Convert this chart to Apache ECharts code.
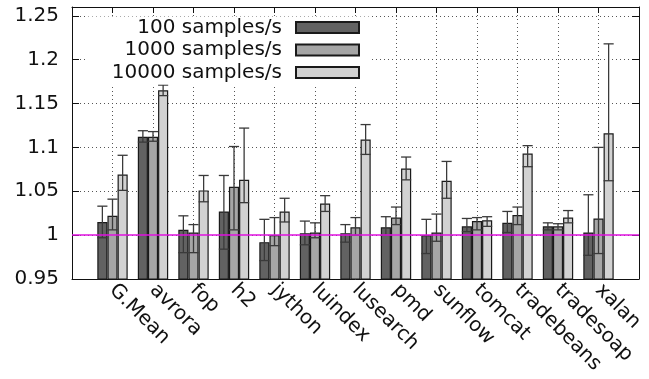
<!DOCTYPE html>
<html>
<head>
<meta charset="utf-8">
<script src="https://cdn.jsdelivr.net/npm/echarts@6/dist/echarts.min.js"></script>
<style>
html,body{margin:0;padding:0;background:#fff;}
#main{width:649px;height:379px;}
</style>
</head>
<body>
<div id="main"></div>
<script>
// benchmarks (x categories)
var names = ['G.Mean','avrora','fop','h2','jython','luindex','lusearch','pmd','sunflow','tomcat','tradebeans','tradesoap','xalan'];
var seriesNames = ['100 samples/s','1000 samples/s','10000 samples/s'];

// normalized values
var v100   = [1.015, 1.112, 1.006, 1.027, 0.992, 1.002, 1.002, 1.009, 1.000, 1.010, 1.014, 1.010, 1.003];
var v1000  = [1.022, 1.112, 1.003, 1.055, 1.000, 1.003, 1.009, 1.020, 1.003, 1.016, 1.023, 1.010, 1.019];
var v10000 = [1.069, 1.165, 1.051, 1.063, 1.027, 1.036, 1.109, 1.076, 1.062, 1.017, 1.093, 1.020, 1.116];

// error bar low / high
var lo100    = [0.997, 1.106, 0.980, 0.984, 0.971, 0.989, 0.992, 1.000, 0.979, 1.004, 1.003, 1.006, 0.977];
var hi100    = [1.033, 1.119, 1.022, 1.068, 1.018, 1.016, 1.012, 1.021, 1.018, 1.019, 1.027, 1.014, 1.046];
var lo1000   = [1.006, 1.107, 0.980, 1.006, 0.988, 0.997, 1.000, 1.012, 0.993, 1.006, 1.012, 1.006, 0.979];
var hi1000   = [1.041, 1.118, 1.012, 1.101, 1.020, 1.014, 1.020, 1.032, 1.024, 1.020, 1.032, 1.013, 1.100];
var lo10000  = [1.051, 1.159, 1.038, 1.037, 1.015, 1.027, 1.092, 1.063, 1.042, 1.010, 1.078, 1.014, 1.062];
var hi10000  = [1.091, 1.171, 1.068, 1.122, 1.042, 1.045, 1.126, 1.089, 1.084, 1.021, 1.102, 1.028, 1.218];

var yTicks = {min: 0.95, max: 1.26, interval: 0.05};
var baseline = 1;

var font = 'DejaVu Sans';
var colors = ['#626262', '#a6a6a6', '#d2d2d2'];

// pad with an empty category at each end (gnuplot xrange -1..13)
var cats = [''].concat(names, ['']);
function pad(arr){ return [null].concat(arr, [null]); }

var vals = [v100, v1000, v10000];
var lows = [lo100, lo1000, lo10000];
var highs = [hi100, hi1000, hi10000];

var errData = [];
for (var s = 0; s < 3; s++){
	for (var i = 0; i < names.length; i++){
		errData.push([i + 1, lows[s][i], highs[s][i], s]);
	}
}

var barSeries = [];
for (var k = 0; k < 3; k++){
	barSeries.push({
		name: seriesNames[k],
		type: 'bar',
		xAxisIndex: 0,
		yAxisIndex: 0,
		data: pad(vals[k]),
		barWidth: '25%',
		barGap: '0%',
		itemStyle: {color: colors[k], borderColor: '#1a1a1a', borderWidth: 1.2},
		emphasis: {disabled: true},
		z: 2
	});
}

var gridDots = {color: '#555', type: [1, 3], width: 1};

var myChart = echarts.init(document.getElementById('main'));
var option = {
	animation: false,
	backgroundColor: '#fff',
	textStyle: {fontFamily: font},
	grid: {left: 72, right: 10, top: 7, bottom: 100},
	legend: {
		data: seriesNames,
		orient: 'vertical',
		align: 'right',
		right: 277,
		top: 16.5,
		itemWidth: 63,
		itemHeight: 11,
		itemGap: 0.5,
		padding: [0, 12, 1, 25],
		backgroundColor: '#fff',
		icon: 'rect',
		selectedMode: false,
		textStyle: {fontFamily: font, fontSize: 20, color: '#111', lineHeight: 22, padding: [0, 9, 0, 0]}
	},
	xAxis: [{
		type: 'category',
		data: cats,
		boundaryGap: false,
		axisLine: {lineStyle: {color: '#111', width: 1}},
		axisTick: {inside: true, length: 6, interval: 0, lineStyle: {color: '#111'}},
		axisLabel: {interval: 0, rotate: -45, margin: 8, fontSize: 20, fontFamily: font, color: '#111'},
		splitLine: {show: true, interval: 0, lineStyle: gridDots}
	}, {
		type: 'category',
		data: cats,
		position: 'top',
		boundaryGap: false,
		axisLine: {lineStyle: {color: '#111', width: 1}},
		axisTick: {inside: true, length: 6, interval: 0, lineStyle: {color: '#111'}},
		axisLabel: {show: false},
		splitLine: {show: false}
	}],
	yAxis: [{
		type: 'value',
		min: yTicks.min,
		max: yTicks.max,
		interval: yTicks.interval,
		axisLine: {show: true, lineStyle: {color: '#111', width: 1}},
		axisTick: {show: true, inside: true, length: 7, lineStyle: {color: '#111'}},
		axisLabel: {showMaxLabel: false, margin: 13, fontSize: 20, fontFamily: font, color: '#111'},
		splitLine: {show: true, lineStyle: gridDots}
	}, {
		type: 'value',
		position: 'right',
		min: yTicks.min,
		max: yTicks.max,
		interval: yTicks.interval,
		axisLine: {show: true, lineStyle: {color: '#111', width: 1}},
		axisTick: {show: true, inside: true, length: 7, lineStyle: {color: '#111'}},
		axisLabel: {show: false},
		splitLine: {show: false}
	}],
	series: barSeries.concat([{
		type: 'custom',
		name: 'err',
		xAxisIndex: 0,
		yAxisIndex: 0,
		data: errData,
		encode: {x: 0, y: [1, 2]},
		z: 3,
		silent: true,
		renderItem: function(params, api){
			var idx = api.value(0);
			var s = api.value(3);
			var band = api.size([1, 0])[0];
			var off = (s - 1) * band * 0.25;
			var half = band * 0.125;
			var pLo = api.coord([idx, api.value(1)]);
			var pHi = api.coord([idx, api.value(2)]);
			var x = pLo[0] + off;
			var st = {stroke: '#3a3a3a', lineWidth: 1.3};
			return {
				type: 'group',
				children: [
					{type: 'line', shape: {x1: x, y1: pLo[1], x2: x, y2: pHi[1]}, style: st},
					{type: 'line', shape: {x1: x - half, y1: pHi[1], x2: x + half, y2: pHi[1]}, style: st},
					{type: 'line', shape: {x1: x - half, y1: pLo[1], x2: x + half, y2: pLo[1]}, style: st}
				]
			};
		},
		markLine: {
			silent: true,
			symbol: 'none',
			label: {show: false},
			lineStyle: {color: '#e010e0', width: 1.5, type: 'solid'},
			data: [{yAxis: baseline}]
		}
	}])
};
myChart.setOption(option);
</script>
</body>
</html>
